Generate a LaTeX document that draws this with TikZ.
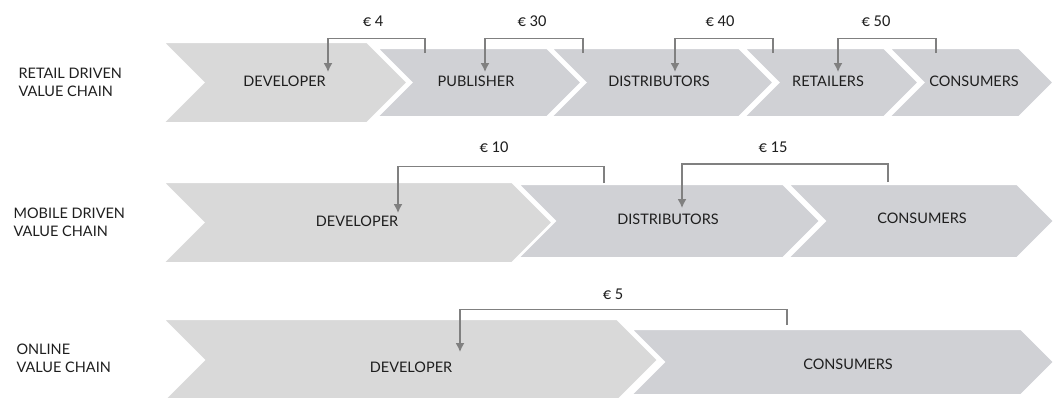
\documentclass[tikz,border=0pt]{standalone}
\usepackage{fontspec}
\setmainfont{Lato}
\newfontfamily\pricefont{Carlito}
\usepackage{tkz-euclide}
\usetikzlibrary{arrows.meta}

\definecolor{devgray}{RGB}{217,217,217}
\definecolor{chaingray}{RGB}{208,209,213}
\definecolor{flowgray}{RGB}{128,128,128}
\definecolor{textgray}{RGB}{30,30,30}

\begin{document}
\begin{tikzpicture}[x=1pt,y=-1pt,
        font=\fontsize{14.5}{18}\selectfont,text=textgray,
        chev/.style={draw=white,line width=2pt,line join=miter},
        flow/.style={flowgray,line width=1.5pt,-{Latex[length=9pt,width=9pt]}},
        price/.style={font=\pricefont\fontsize{16.5}{18}\selectfont}]
                    \useasboundingbox (0,0) rectangle (1054,397);

                    % chevrons, right to left so that each one lies on its right neighbour
                    \foreach \c/\xl/\xr/\yc/\h/\col in {
                            CA/889/1019/82.5/34.5/chaingray,
                            RA/744/884/82.5/34.5/chaingray,
                            TA/551/739/82.5/34.5/chaingray,
                            PA/377/547/82.5/34.5/chaingray,
                            DA/163/367/82.5/40.5/devgray,
                            CB/788/1017/221/37/chaingray,
                            TB/518/783/221/37/chaingray,
                            DB/163/512/222.5/40.5/devgray,
                            CC/631/1021/362/33/chaingray,
                            DC/163/617/360/41/devgray}{
                        \tkzDefPoint(\xl,\yc-\h){\c a}
                        \tkzDefPoint(\xr,\yc-\h){\c b}
                        \tkzDefPoint(\xr+\h,\yc){\c c}
                        \tkzDefPoint(\xr,\yc+\h){\c d}
                        \tkzDefPoint(\xl,\yc+\h){\c e}
                        \tkzDefPoint(\xl+\h,\yc){\c f}
                        \tkzDrawPolygon[chev,fill=\col](\c a,\c b,\c c,\c d,\c e,\c f)
                    }

                    % chain names
                    \node[anchor=west,align=left] (retail) at (15,82.5) {RETAIL DRIVEN\\VALUE CHAIN};
                    \node[anchor=west,align=left] (mobile) at (10,222.5) {MOBILE DRIVEN\\VALUE CHAIN};
                    \node[anchor=west,align=left] (online) at (13,358.5) {ONLINE\\VALUE CHAIN};

                    % retail driven
                    \node (devA) at (284.5,81.5) {DEVELOPER};
                    \node (pubA) at (476,81.5) {PUBLISHER};
                    \node (disA) at (659,81.5) {DISTRIBUTORS};
                    \node (retA) at (828,81.5) {RETAILERS};
                    \node (conA) at (974,81.5) {CONSUMERS};

                    \tkzDefPoint(328,72){A1} \tkzDefPoint(328,38.5){A2}
                    \tkzDefPoint(425,38.5){A3} \tkzDefPoint(425,53){A4}
                    \tkzDefPoint(485,72){B1} \tkzDefPoint(485,38.5){B2}
                    \tkzDefPoint(583,38.5){B3} \tkzDefPoint(583,53){B4}
                    \tkzDefPoint(675,72){C1} \tkzDefPoint(675,38.5){C2}
                    \tkzDefPoint(773,38.5){C3} \tkzDefPoint(773,53){C4}
                    \tkzDefPoint(838,72){D1} \tkzDefPoint(838,38.5){D2}
                    \tkzDefPoint(936,38.5){D3} \tkzDefPoint(936,53){D4}
                    \draw[flow] (A4) -- (A3) -- (A2) -- (A1);
                    \draw[flow] (B4) -- (B3) -- (B2) -- (B1);
                    \draw[flow] (C4) -- (C3) -- (C2) -- (C1);
                    \draw[flow] (D4) -- (D3) -- (D2) -- (D1);

                    \node[price] (eurA) at (373,21) {€ 4};
                    \node[price] (eurB) at (532,21) {€ 30};
                    \node[price] (eurC) at (720,21) {€ 40};
                    \node[price] (eurD) at (876,21) {€ 50};

                    % mobile driven
                    \node (devB) at (357,221.5) {DEVELOPER};
                    \node (disB) at (668,219) {DISTRIBUTORS};
                    \node (conB) at (922,218.5) {CONSUMERS};

                    \tkzDefPoint(398,213){E1} \tkzDefPoint(398,166.5){E2}
                    \tkzDefPoint(604,166.5){E3} \tkzDefPoint(604,183){E4}
                    \tkzDefPoint(682,208){F1} \tkzDefPoint(682,164){F2}
                    \tkzDefPoint(888,164){F3} \tkzDefPoint(888,182){F4}
                    \draw[flow] (E4) -- (E3) -- (E2) -- (E1);
                    \draw[flow] (F4) -- (F3) -- (F2) -- (F1);

                    \node[price] (eurE) at (494,147) {€ 10};
                    \node[price] (eurF) at (773,147) {€ 15};

                    % online
                    \node (devC) at (411,367.5) {DEVELOPER};
                    \node (conC) at (848,364) {CONSUMERS};

                    \tkzDefPoint(460,352){G1} \tkzDefPoint(460,309.5){G2}
                    \tkzDefPoint(787,309.5){G3} \tkzDefPoint(787,325){G4}
                    \draw[flow] (G4) -- (G3) -- (G2) -- (G1);

                    \node[price] (eurG) at (613,294) {€ 5};
                \end{tikzpicture}
\end{document}
